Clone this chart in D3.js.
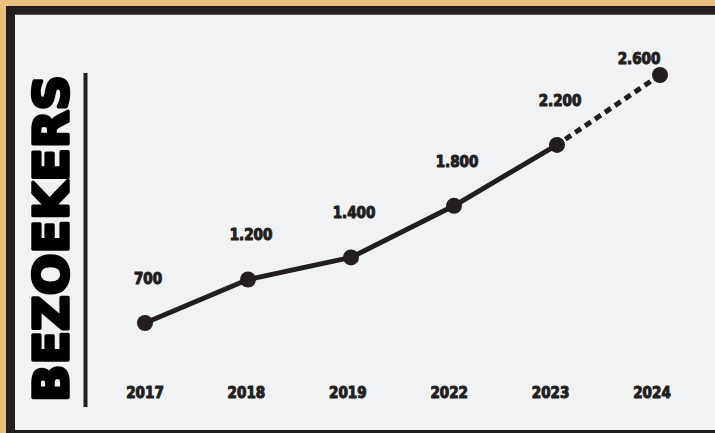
<!DOCTYPE html>
<html>
<head>
<meta charset="utf-8">
<script src="https://cdn.jsdelivr.net/npm/d3@7"></script>
<style>
  html, body { margin: 0; padding: 0; background: #f1f2f4; }
  svg { display: block; }
</style>
</head>
<body>
<div id="viz"></div>
<script>
var years = ["2017", "2018", "2019", "2022", "2023", "2024"];
var visitors = [700, 1200, 1400, 1800, 2200, 2600];
var valueLabels = ["700", "1.200", "1.400", "1.800", "2.200", "2.600"];
var title = "BEZOEKERS";

var width = 715, height = 433,
    ink = "#231f20";

var svg = d3.select("#viz")
    .append("svg")
    .attr("width", width)
    .attr("height", height);

// frame: tan edge, dark border, light panel
svg.append("rect")
    .attr("width", width).attr("height", height)
    .style("fill", "#e9c17e");
svg.append("rect")
    .attr("x", 6).attr("y", 6)
    .attr("width", width - 6).attr("height", height - 6)
    .style("fill", ink);
svg.append("rect")
    .attr("x", 15).attr("y", 14)
    .attr("width", width - 15).attr("height", 416)
    .style("fill", "#f1f2f4");
svg.append("line")
    .attr("x1", 15).attr("x2", width)
    .attr("y1", 14.5).attr("y2", 14.5)
    .style("stroke", "#555").style("stroke-width", 1);

// scales (the original spacing is not linear, a pow scale follows it best)
var x = d3.scalePoint().domain(years).range([145, 660]);
var xAxis = d3.scalePoint().domain(years).range([145, 652]);
var y = d3.scalePow().exponent(1.75)
    .domain(d3.extent(visitors))
    .range([323, 75]);

var pts = years.map(function(d, i){ return {year: d, v: visitors[i], label: valueLabels[i]}; });
var last = pts.length - 1;

// vertical title + rule
svg.append("text")
    .attr("transform", "translate(68,402) rotate(-90)")
    .attr("textLength", 327)
    .attr("lengthAdjust", "spacingAndGlyphs")
    .style("font-family", "DejaVu Sans")
    .style("font-weight", "bold")
    .style("font-size", "48px")
    .style("fill", "#000")
    .style("stroke", "#000")
    .style("stroke-width", 3.5)
    .style("stroke-linejoin", "round")
    .text(title);

svg.append("rect")
    .attr("x", 83.5).attr("y", 73)
    .attr("width", 4).attr("height", 334)
    .style("fill", ink);

// line: solid up to 2023, dashed to 2024
var line = d3.line()
    .x(function(d){ return x(d.year); })
    .y(function(d){ return y(d.v); });

svg.append("path")
    .datum(pts.slice(0, last))
    .attr("d", line)
    .style("fill", "none")
    .style("stroke", ink)
    .style("stroke-width", 5)
    .style("stroke-linejoin", "round");

svg.append("path")
    .datum(pts.slice(last - 1))
    .attr("d", line)
    .style("fill", "none")
    .style("stroke", ink)
    .style("stroke-width", 5)
    .style("stroke-dasharray", "7,5")
    .style("stroke-dashoffset", -10);

svg.selectAll("circle")
    .data(pts)
    .enter().append("circle")
    .attr("cx", function(d){ return x(d.year); })
    .attr("cy", function(d){ return y(d.v); })
    .attr("r", 8)
    .style("fill", ink);

var labelFont = function(sel){
    sel.style("font-family", "DejaVu Sans Condensed")
       .style("font-weight", "bold")
       .style("font-size", "15px")
       .style("fill", ink)
       .style("stroke", ink)
       .style("stroke-width", 1)
       .style("stroke-linejoin", "round")
       .attr("text-anchor", "middle");
};

// value labels
svg.selectAll("text.val")
    .data(pts)
    .enter().append("text")
    .attr("class", "val")
    .attr("x", function(d, i){ return x(d.year) + (i === last ? -21 : 3); })
    .attr("y", function(d, i){ return y(d.v) + (i === last ? -11 : -39); })
    .call(labelFont)
    .text(function(d){ return d.label; });

// year labels
svg.selectAll("text.year")
    .data(years)
    .enter().append("text")
    .attr("class", "year")
    .attr("x", function(d){ return xAxis(d); })
    .attr("y", 398)
    .call(labelFont)
    .text(function(d){ return d; });
</script>
</body>
</html>
